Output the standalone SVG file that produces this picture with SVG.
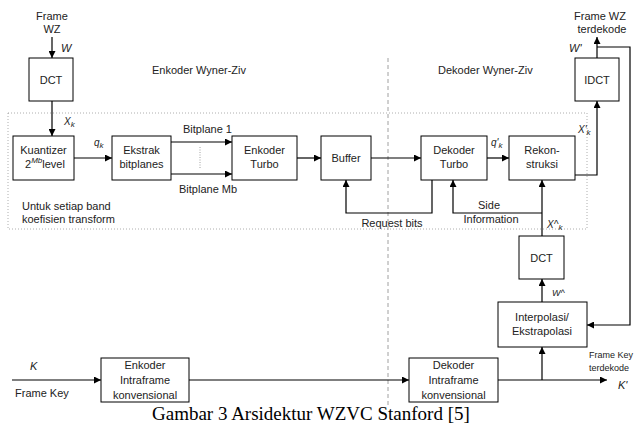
<svg xmlns="http://www.w3.org/2000/svg" width="634" height="430" viewBox="0 0 634 430">
<defs>
<marker id="ah" viewBox="0 0 10 10" refX="10" refY="5" markerWidth="7" markerHeight="7" markerUnits="userSpaceOnUse" orient="auto">
<path d="M0,0 L10,5 L0,10 z" fill="#000"/>
</marker>
<style>
.box{fill:#fff;stroke:#000;stroke-width:1}
.ar{fill:none;stroke:#000;stroke-width:1.2;marker-end:url(#ah)}
text{font-family:"Liberation Sans",Arial,sans-serif;font-size:11px;fill:#222}
.c{text-anchor:middle}
.i{font-style:italic}
.s{font-size:8px}
.cap{font-family:"Liberation Serif","Times New Roman",serif;font-size:19px;fill:#000}
</style>
</defs>
<rect x="0" y="0" width="634" height="430" fill="#fff"/>
<g id="regions">
<rect x="8" y="113" width="579" height="116" fill="none" stroke="#999" stroke-width="0.8" stroke-dasharray="1,2"/>
<line x1="388" y1="58" x2="388" y2="405" stroke="#888" stroke-width="0.8" stroke-dasharray="4,3"/>
<text x="152" y="74">Enkoder Wyner-Ziv</text>
<text x="438" y="74">Dekoder Wyner-Ziv</text>
<text x="22" y="210">Untuk setiap band</text>
<text x="22" y="223">koefisien transform</text>
</g>
<g id="connectors">
<path class="ar" d="M52,37 V58"/>
<path class="ar" d="M52,101 V136"/>
<path class="ar" d="M74,158 H112"/>
<path class="ar" d="M171,142 H232"/>
<path class="ar" d="M171,174 H232"/>
<line x1="200" y1="147" x2="200" y2="169" stroke="#888" stroke-width="0.8" stroke-dasharray="1,1.5"/>
<path class="ar" d="M297,158 H321"/>
<path class="ar" d="M371,158 H421"/>
<path class="ar" d="M487,158 H509"/>
<path class="ar" d="M575,175 H597 V101"/>
<path class="ar" d="M597,58 V37"/>
<path class="ar" d="M597,47 H630 V325 H587"/>
<path class="ar" d="M432,180 V213 H346 V180"/>
<path class="ar" d="M542,236 V180"/>
<path class="ar" d="M542,213 H453 V180"/>
<path class="ar" d="M542,302 V279"/>
<path class="ar" d="M542,380 V347"/>
<path class="ar" d="M12,380 H101"/>
<path class="ar" d="M189,380 H409"/>
<path class="ar" d="M498,380 H607"/>
</g>
<g id="frameWZ">
<text class="c" x="52" y="20">Frame</text>
<text class="c" x="52" y="33">WZ</text>
<text class="i" x="61" y="52">W</text>
</g>
<g id="dct1">
<rect class="box" x="29" y="58" width="44" height="43"/>
<text class="c" x="51" y="84">DCT</text>
</g>
<g id="xk"><text class="i" x="64" y="125" style="font-size:10px">X<tspan class="s" dy="2">k</tspan></text></g>
<g id="kuantizer">
<rect class="box" x="13" y="136" width="61" height="44"/>
<text class="c" x="43.5" y="154">Kuantizer</text>
<text x="25" y="168">2<tspan class="s i" dy="-5">Mb</tspan><tspan dy="5">level</tspan></text>
</g>
<g id="qk"><text class="i" x="94" y="146" style="font-size:10px">q<tspan class="s" dy="2">k</tspan></text></g>
<g id="ekstrak">
<rect class="box" x="112" y="136" width="59" height="44"/>
<text class="c" x="141.5" y="154">Ekstrak</text>
<text class="c" x="141.5" y="168">bitplanes</text>
</g>
<g id="bitplanes">
<text x="183" y="133">Bitplane 1</text>
<text x="179" y="193">Bitplane Mb</text>
</g>
<g id="enkoderTurbo">
<rect class="box" x="232" y="136" width="65" height="44"/>
<text class="c" x="264.5" y="154">Enkoder</text>
<text class="c" x="264.5" y="168">Turbo</text>
</g>
<g id="buffer">
<rect class="box" x="321" y="136" width="50" height="44"/>
<text class="c" x="346" y="162">Buffer</text>
</g>
<g id="dekoderTurbo">
<rect class="box" x="421" y="136" width="66" height="44"/>
<text class="c" x="454" y="154">Dekoder</text>
<text class="c" x="454" y="168">Turbo</text>
</g>
<g id="qpk"><text class="i" x="491" y="146" style="font-size:10px">q'<tspan class="s" dy="2">k</tspan></text></g>
<g id="rekonstruksi">
<rect class="box" x="509" y="136" width="66" height="44"/>
<text class="c" x="542" y="154">Rekon-</text>
<text class="c" x="542" y="168">struksi</text>
</g>
<g id="xpk"><text class="i" x="578" y="133" style="font-size:10px">X'<tspan class="s" dy="2">k</tspan></text></g>
<g id="idct">
<rect class="box" x="575" y="58" width="44" height="43"/>
<text class="c" x="597" y="84">IDCT</text>
</g>
<g id="frameWZout">
<text class="c" x="600" y="20">Frame WZ</text>
<text class="c" x="602" y="33">terdekode</text>
<text class="i" x="569" y="52">W'</text>
</g>
<g id="labels">
<text class="c" x="392" y="227">Request bits</text>
<text class="c" x="489" y="209">Side</text>
<text class="c" x="491" y="223">Information</text>
<text class="i" x="547" y="228" style="font-size:10px">X^<tspan class="s" dy="2">k</tspan></text>
</g>
<g id="dct2">
<rect class="box" x="519" y="236" width="45" height="43"/>
<text class="c" x="541.5" y="262">DCT</text>
</g>
<g id="wh"><text class="i" x="552" y="296" style="font-size:9px">W^</text></g>
<g id="interpolasi">
<rect class="box" x="498" y="302" width="89" height="45"/>
<text class="c" x="542" y="321">Interpolasi/</text>
<text class="c" x="542" y="335">Ekstrapolasi</text>
</g>
<g id="enkoderIntra">
<rect class="box" x="101" y="358" width="88" height="44"/>
<text class="c" x="145" y="369">Enkoder</text>
<text class="c" x="145" y="384">Intraframe</text>
<text class="c" x="145" y="399">konvensional</text>
</g>
<g id="dekoderIntra">
<rect class="box" x="409" y="358" width="89" height="44"/>
<text class="c" x="453.5" y="369">Dekoder</text>
<text class="c" x="453.5" y="384">Intraframe</text>
<text class="c" x="453.5" y="399">konvensional</text>
</g>
<g id="frameKey">
<text class="i" x="30" y="370">K</text>
<text x="15" y="397">Frame Key</text>
</g>
<g id="frameKeyOut">
<text x="589" y="358" style="font-size:9px">Frame Key</text>
<text x="589" y="371" style="font-size:9px">terdekode</text>
<text class="i" x="618" y="389">K'</text>
</g>
<text class="cap" x="152" y="420">Gambar 3 Arsidektur WZVC Stanford [5]</text>
</svg>
